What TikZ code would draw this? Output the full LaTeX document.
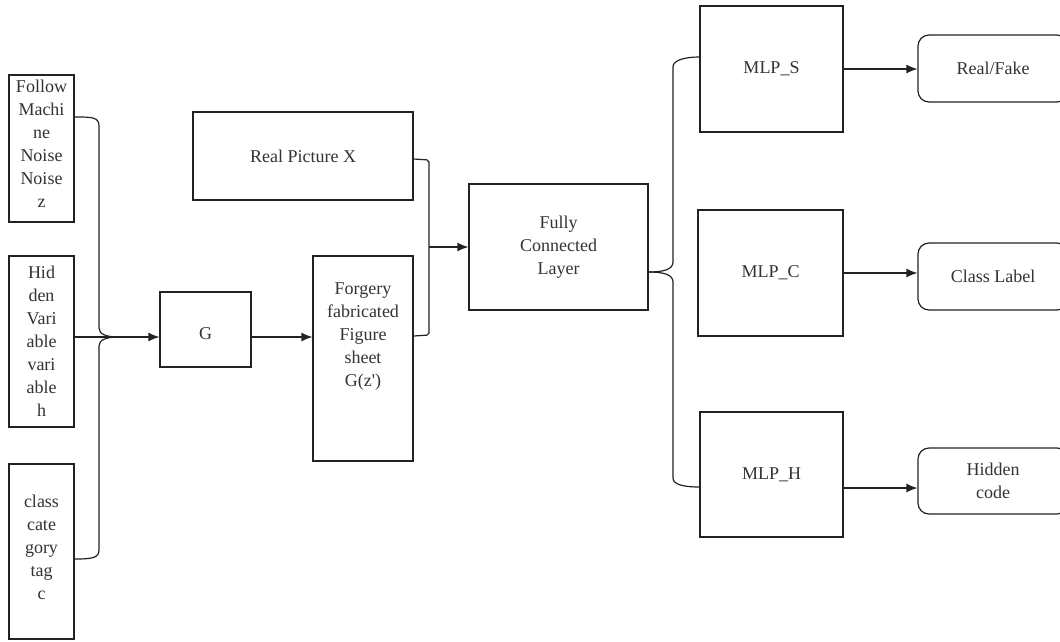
\documentclass[tikz,border=0pt]{standalone}
\usepackage{fontspec}
\setmainfont{Liberation Serif}
\usetikzlibrary{arrows.meta,calc}
\definecolor{ln}{HTML}{222222}
\definecolor{tx}{HTML}{333333}
\begin{document}
\begin{tikzpicture}[x=1pt,y=-1pt,line width=1.2pt,
  box/.style={draw=ln,rectangle,inner sep=0pt,align=center,text=tx,font=\fontsize{18}{23}\selectfont},
  rbox/.style={box,rounded corners=11pt},
  txt/.style={inner sep=0pt,align=center,text=tx,font=\fontsize{18}{23}\selectfont},
  arr/.style={draw=ln,-{Latex[length=11pt,width=9pt]}},
  conn/.style={draw=ln}]
\useasboundingbox (0,0) rectangle (1060,641);
\fill[white] (0,0) rectangle (1060,641);
\begin{scope}
\clip (0,0) rectangle (1060,641);
% left inputs
\node[box,minimum width=65,minimum height=147] (fz) at (41.5,148.5) {};
\node[txt] (fzt) at (41.5,144) {Follow\\Machi\\ne\\Noise\\Noise\\z};
\node[box,minimum width=65,minimum height=171] (hv) at (41.5,341.5) {Hid\\den\\Vari\\able\\vari\\able\\h};
\node[box,minimum width=65,minimum height=175] (cc) at (41.5,551.5) {};
\node[txt] (cct) at (41.5,547) {class\\cate\\gory\\tag\\c};
% generator
\node[box,minimum width=91,minimum height=75] (g) at (205.5,329.5) {};
\node[txt] (gt) at (205.5,334) {G};
\node[box,minimum width=220,minimum height=88] (rp) at (303,156) {Real Picture X};
\node[box,minimum width=100,minimum height=205] (fg) at (363,358.5) {};
\node[txt] (fgt) at (363,337) {Forgery\\fabricated\\Figure\\sheet\\G(z\textquotesingle)};
\node[box,minimum width=179,minimum height=126] (fc) at (558.5,247) {Fully\\Connected\\Layer};
% MLPs
\node[box,minimum width=143,minimum height=126] (ms) at (771.5,69) {MLP\_S};
\node[box,minimum width=145,minimum height=126] (mc) at (770.5,273) {MLP\_C};
\node[box,minimum width=143,minimum height=125] (mh) at (771.5,474.5) {MLP\_H};
% outputs
\node[rbox,minimum width=150,minimum height=67] (rf) at (993,68.5) {Real/Fake};
\node[rbox,minimum width=150,minimum height=67] (cl) at (993,276.5) {Class Label};
\node[rbox,minimum width=150,minimum height=66] (hc) at (993,481) {Hidden\\code};
% helper coordinates
\coordinate (tip) at (118,337);
\coordinate (rb) at (429,247);
\coordinate (hy) at (880,488);
% left brace
\draw[conn] (fz.east |- 0,117) .. controls (92,117) and (99,117) .. (99,126) -- (99,328) .. controls (99,334) and (106,337) .. (tip);
\draw[conn] (tip) .. controls (106,337) and (99,340) .. (99,346) -- (99,550) .. controls (99,558) and (92,559) .. (cc.east |- 0,559);
\draw[arr] (hv.east |- tip) -- (g.west |- tip);
\draw[arr] (g.east |- tip) -- (fg.west |- tip);
% bracket real/forgery
\draw[conn,rounded corners=2pt] (rp.east |- 0,159) -- (429,160) -- (429,335) -- (fg.east |- 0,336);
\draw[arr] (rb) -- (fc.west |- rb);
% right brace
\draw[conn] (fc.east |- 0,272) .. controls (662,272) and (673,270) .. (673,262) -- (673,67) .. controls (673,60) and (685,57) .. (ms.west |- 0,57);
\draw[conn] (fc.east |- 0,272) .. controls (662,272) and (673,274) .. (673,282) -- (673,478) .. controls (673,485) and (685,487) .. (mh.west |- 0,487);
% output arrows
\draw[arr] (ms.east) -- (rf.west |- ms.east);
\draw[arr] (mc.east) -- (cl.west |- mc.east);
\draw[arr] (mh.east |- hy) -- (hc.west |- hy);
\end{scope}
\end{tikzpicture}
\end{document}
